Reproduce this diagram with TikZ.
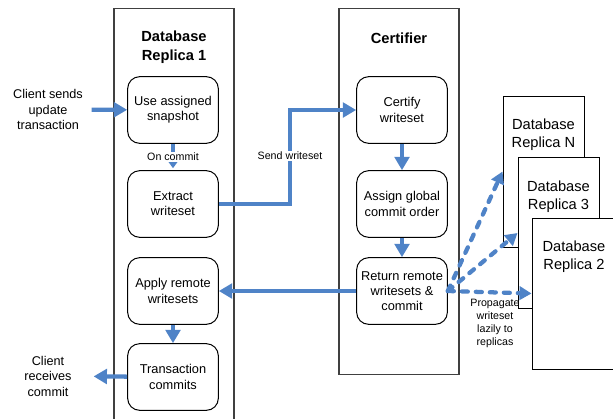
\documentclass[tikz,border=0pt]{standalone}
\usepackage{fontspec}
\setmainfont{Liberation Sans}
\usetikzlibrary{shapes.geometric, arrows.meta}
\definecolor{flowblue}{RGB}{79,131,199}
\tikzstyle{column} = [rectangle, draw=black!75, line width=1pt, minimum width=90pt]
\tikzstyle{title} = [align=center, font=\bfseries\fontsize{11}{14.2}\selectfont]
\tikzstyle{stage} = [rectangle, rounded corners=9pt, minimum width=68pt, minimum height=50pt, text centered, align=center, draw=black, line width=0.75pt, font=\fontsize{9.6}{11.4}\selectfont]
\tikzstyle{replica} = [rectangle, draw=black, fill=white, line width=0.75pt, minimum width=60.75pt, minimum height=113.25pt]
\tikzstyle{replica text} = [align=center, font=\fontsize{11}{13.5}\selectfont]
\tikzstyle{client} = [align=center, font=\fontsize{9.5}{11.6}\selectfont]
\tikzstyle{small} = [align=center, fill=white, inner sep=1pt, font=\fontsize{8}{9.75}\selectfont]
\tikzstyle{arrow} = [line width=3.2pt, draw=flowblue, -{Triangle[length=10pt,width=11pt]}]
\tikzstyle{lazy arrow} = [arrow, line cap=round, dash pattern=on 4.5pt off 6pt, -{Triangle[length=9pt,width=10pt]}]
\tikzstyle{commit arrow} = [line width=2.4pt, draw=flowblue, -{Triangle[length=5pt,width=7pt]}, shorten >=1.5pt]

\begin{document}
\begin{tikzpicture}[x=0.75pt, y=-0.75pt, node distance=70.5pt]
\useasboundingbox (0,0) rectangle (613,418);
% the two columns
\node (dbcol) [column, anchor=north, minimum height=330pt] at (174,8) {};
\node (certcol) [column, anchor=north, minimum height=274.5pt] at (399,8) {};
\node (dbtitle) [title] at (174,47.5) {Database\\Replica 1};
\node (certtitle) [title] at (399,38.5) {Certifier};

% steps on the replica
\node (snapshot) [stage] at (173,110) {Use assigned\\snapshot};
\node (extract) [stage, below of = snapshot] {Extract\\writeset};
\node (apply) [stage, below of = extract, yshift=5.25pt] {Apply remote\\writesets};
\node (commits) [stage, below of = apply, yshift=6pt] {Transaction\\commits};

% steps on the certifier
\node (certify) [stage, right of = snapshot, xshift=101.25pt] {Certify\\writeset};
\node (assign) [stage, below of = certify] {Assign global\\commit order};
\node (return) [stage, below of = assign, yshift=5.25pt] {Return remote\\writesets \&\\commit};

% other replicas
\node (replicaN) [replica, label={[replica text, yshift=27.4pt]center:{Database\\Replica N}}] at (543.5,171.5) {};
\node (replica3) [replica, label={[replica text, yshift=27pt]center:{Database\\Replica 3}}] at (558.5,233) {};
\node (replica2) [replica, minimum width=63pt, label={[replica text, yshift=27.4pt]center:{Database\\Replica 2}}] at (574,293.5) {};

% client side
\node (sendnote) [client] at (48,109.5) {Client sends\\update\\transaction};
\node (recvnote) [client] at (48,376) {Client\\receives\\commit};

\draw [arrow, shorten <=3pt] (sendnote) -- (snapshot);
\draw [commit arrow] (snapshot) -- (extract) node [small, midway] {On commit};
\coordinate (sendbend) at (290,156);
\draw [arrow, line join=miter] (extract.east) -| (sendbend) |- (certify.west);
\node (sendlabel) [small] at (sendbend) {Send writeset};
\draw [arrow] (certify) -- (assign);
\draw [arrow] (assign) -- (return);
\draw [arrow] (return) -- (apply);
\draw [arrow] (apply) -- (commits);
\draw [arrow, shorten >=13pt] (commits) -- (recvnote);

% lazy propagation
\draw [lazy arrow] (return.east) -- (replicaN.west);
\draw [lazy arrow] (return.east) -- (replica3.west);
\draw [lazy arrow] (return.east) -- (replica2.west);
\node (lazynote) [small, fill=none] at (495,323.5) {Propagate\\writeset\\lazily to\\replicas};
\end{tikzpicture}
\end{document}
